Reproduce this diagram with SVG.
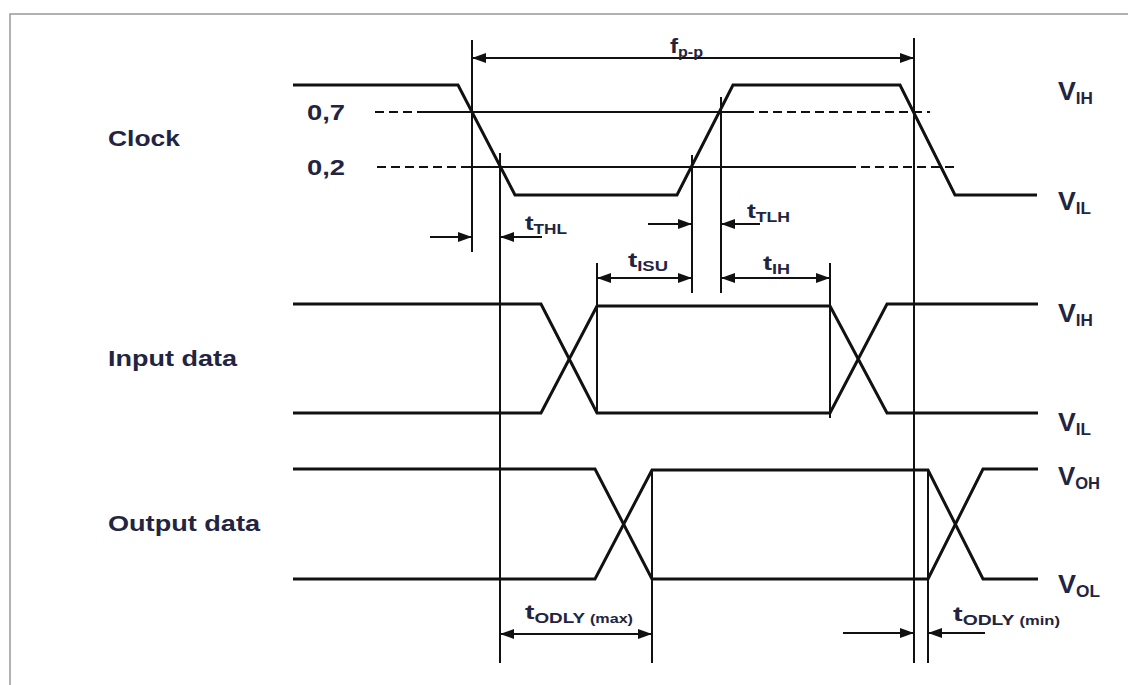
<svg xmlns="http://www.w3.org/2000/svg" width="1128" height="685" viewBox="0 0 1128 685">
<defs>
<marker id="ah" viewBox="0 0 14 10" refX="14" refY="5" markerWidth="14" markerHeight="10" markerUnits="userSpaceOnUse" orient="auto-start-reverse">
<path d="M0,0 L14,5 L0,10 z" fill="#111"/>
</marker>
<style>
.wave{fill:none;stroke:#111;stroke-width:3;stroke-linejoin:miter}
.vl{stroke:#111;stroke-width:2;fill:none}
.th{stroke:#111;stroke-width:2;fill:none}
.dash{stroke:#111;stroke-width:2;fill:none;stroke-dasharray:9,5}
.dim{stroke:#111;stroke-width:2;fill:none}
.lbl{font-family:"Liberation Sans",Arial,sans-serif;font-weight:bold;font-size:21px;fill:#23243f}
.lv{font-family:"Liberation Sans",Arial,sans-serif;font-weight:bold;font-size:25px;fill:#23243f}
.sig{font-family:"Liberation Sans",Arial,sans-serif;font-weight:bold;font-size:22px;fill:#23243f}
.sub{font-size:14px}
.subv{font-size:16px}
.subs{font-size:12px}
</style>
</defs>
<rect x="10" y="14" width="1130" height="690" fill="#fff" stroke="#999" stroke-width="1.5"/>

<g id="labels">
<text class="sig" x="108" y="146" textLength="72" lengthAdjust="spacingAndGlyphs">Clock</text>
<text class="sig" x="108" y="366" textLength="129" lengthAdjust="spacingAndGlyphs">Input data</text>
<text class="sig" x="108" y="531" textLength="152" lengthAdjust="spacingAndGlyphs">Output data</text>
<text class="sig" x="307" y="120" textLength="38" lengthAdjust="spacingAndGlyphs">0,7</text>
<text class="sig" x="307" y="175" textLength="38" lengthAdjust="spacingAndGlyphs">0,2</text>
</g>

<g id="clock">
<polyline class="wave" points="293,85 458,85 515,195 677,195 733,85 900,85 955,195 1037,195"/>
</g>

<g id="input-data">
<polyline class="wave" points="293,304 541,304 597,413 830,413 887,304 1038,304"/>
<polyline class="wave" points="293,413 541,413 597,306 830,306 887,413 1038,413"/>
</g>

<g id="output-data">
<polyline class="wave" points="293,469 595,469 652,579 928,579 983,469 1038,469"/>
<polyline class="wave" points="293,579 595,579 652,470 928,470 983,579 1038,579"/>
</g>

<g id="thresholds">
<line class="dash" x1="375" y1="112" x2="418" y2="112"/>
<line class="th" x1="418" y1="112" x2="745" y2="112"/>
<line class="dash" x1="745" y1="112" x2="930" y2="112"/>
<line class="dash" x1="377" y1="167" x2="470" y2="167"/>
<line class="th" x1="470" y1="167" x2="847" y2="167"/>
<line class="dash" x1="847" y1="167" x2="957" y2="167"/>
</g>

<g id="connectors">
<line class="vl" x1="472" y1="40" x2="472" y2="252"/>
<line class="vl" x1="500" y1="153" x2="500" y2="663"/>
<line class="vl" x1="692" y1="155" x2="692" y2="293"/>
<line class="vl" x1="721" y1="97" x2="721" y2="293"/>
<line class="vl" x1="914" y1="38" x2="914" y2="663"/>
<line class="vl" x1="928" y1="469" x2="928" y2="663"/>
<line class="vl" x1="597" y1="263" x2="597" y2="413"/>
<line class="vl" x1="830" y1="263" x2="830" y2="418"/>
<line class="vl" x1="652" y1="470" x2="652" y2="663"/>

<line class="dim" x1="472" y1="58" x2="914" y2="58" marker-start="url(#ah)" marker-end="url(#ah)"/>
<line class="dim" x1="430" y1="237" x2="472" y2="237" marker-end="url(#ah)"/>
<line class="dim" x1="542" y1="237" x2="500" y2="237" marker-end="url(#ah)"/>
<line class="dim" x1="648" y1="224" x2="692" y2="224" marker-end="url(#ah)"/>
<line class="dim" x1="760" y1="224" x2="721" y2="224" marker-end="url(#ah)"/>
<line class="dim" x1="597" y1="278" x2="692" y2="278" marker-start="url(#ah)" marker-end="url(#ah)"/>
<line class="dim" x1="721" y1="278" x2="830" y2="278" marker-start="url(#ah)" marker-end="url(#ah)"/>
<line class="dim" x1="500" y1="634" x2="652" y2="634" marker-start="url(#ah)" marker-end="url(#ah)"/>
<line class="dim" x1="843" y1="633" x2="914" y2="633" marker-end="url(#ah)"/>
<line class="dim" x1="985" y1="633" x2="928" y2="633" marker-end="url(#ah)"/>
</g>

<g id="timing-labels">
<text class="lbl" x="670" y="53" textLength="33" lengthAdjust="spacingAndGlyphs">f<tspan class="sub" dy="4">p-p</tspan></text>
<text class="lbl" x="525" y="230" textLength="42" lengthAdjust="spacingAndGlyphs">t<tspan class="sub" dy="4">THL</tspan></text>
<text class="lbl" x="747" y="218" textLength="43" lengthAdjust="spacingAndGlyphs">t<tspan class="sub" dy="4">TLH</tspan></text>
<text class="lbl" x="628" y="267" textLength="40" lengthAdjust="spacingAndGlyphs">t<tspan class="sub" dy="4">ISU</tspan></text>
<text class="lbl" x="763" y="270" textLength="27" lengthAdjust="spacingAndGlyphs">t<tspan class="sub" dy="4">IH</tspan></text>
<text class="lbl" x="525" y="619" textLength="108" lengthAdjust="spacingAndGlyphs">t<tspan class="sub" dy="4">ODLY </tspan><tspan class="subs">(max)</tspan></text>
<text class="lbl" x="953" y="621" textLength="107" lengthAdjust="spacingAndGlyphs">t<tspan class="sub" dy="4">ODLY </tspan><tspan class="subs">(min)</tspan></text>
</g>

<g id="levels">
<text class="lv" x="1058" y="100" textLength="35" lengthAdjust="spacingAndGlyphs">V<tspan class="subv" dy="4">IH</tspan></text>
<text class="lv" x="1058" y="210" textLength="33" lengthAdjust="spacingAndGlyphs">V<tspan class="subv" dy="4">IL</tspan></text>
<text class="lv" x="1058" y="322" textLength="35" lengthAdjust="spacingAndGlyphs">V<tspan class="subv" dy="4">IH</tspan></text>
<text class="lv" x="1058" y="431" textLength="33" lengthAdjust="spacingAndGlyphs">V<tspan class="subv" dy="4">IL</tspan></text>
<text class="lv" x="1058" y="485" textLength="42" lengthAdjust="spacingAndGlyphs">V<tspan class="subv" dy="4">OH</tspan></text>
<text class="lv" x="1058" y="593" textLength="42" lengthAdjust="spacingAndGlyphs">V<tspan class="subv" dy="4">OL</tspan></text>
</g>
</svg>
